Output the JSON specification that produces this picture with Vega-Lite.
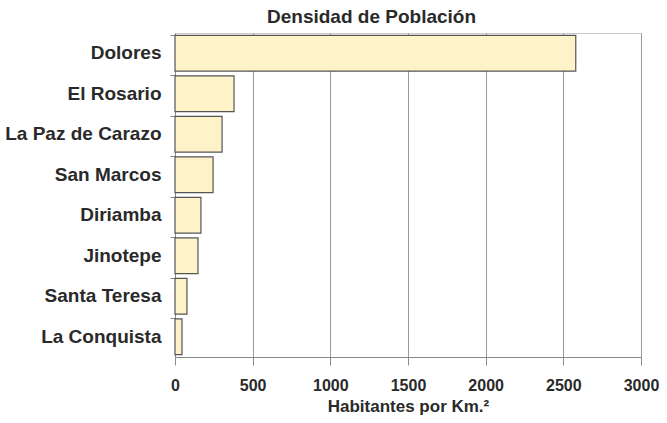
{
  "$schema": "https://vega.github.io/schema/vega-lite/v6.json",
  "width": 466,
  "height": 324,
  "autosize": {"type": "none"},
  "padding": {"left": 175, "top": 33, "right": 26, "bottom": 66},
  "background": "white",
  "title": {
    "text": "Densidad de Población",
    "anchor": "start",
    "frame": "group",
    "dx": 92,
    "offset": 6,
    "font": "Liberation Sans",
    "fontSize": 19,
    "fontWeight": "bold",
    "color": "#2a2a2a"
  },
  "data": {
    "values": [
      {"municipio": "Dolores", "densidad": 2580},
      {"municipio": "El Rosario", "densidad": 380},
      {"municipio": "La Paz de Carazo", "densidad": 303},
      {"municipio": "San Marcos", "densidad": 245},
      {"municipio": "Diriamba", "densidad": 167},
      {"municipio": "Jinotepe", "densidad": 148},
      {"municipio": "Santa Teresa", "densidad": 77},
      {"municipio": "La Conquista", "densidad": 45}
    ]
  },
  "mark": {"type": "bar", "fill": "#fdf2c8", "stroke": "#555555", "strokeWidth": 1.2},
  "encoding": {
    "y": {
      "field": "municipio",
      "type": "nominal",
      "sort": null,
      "scale": {"paddingInner": 0.12, "paddingOuter": 0.06},
      "axis": {
        "title": null,
        "bandPosition": 0,
        "tickSize": 5,
        "tickColor": "#888888",
        "domainColor": "#888888",
        "labelPadding": 9,
        "labelFont": "Liberation Sans",
        "labelFontSize": 19,
        "labelFontWeight": "bold",
        "labelColor": "#2a2a2a",
        "labelLimit": 200,
        "grid": false
      }
    },
    "x": {
      "field": "densidad",
      "type": "quantitative",
      "scale": {"domain": [0, 3000], "nice": false},
      "axis": {
        "title": "Habitantes por Km.²",
        "format": "d",
        "values": [0, 500, 1000, 1500, 2000, 2500, 3000],
        "tickSize": 8,
        "tickColor": "#888888",
        "domainColor": "#888888",
        "gridColor": "#999999",
        "gridWidth": 1,
        "labelPadding": 12,
        "labelFlush": false,
        "labelFont": "Liberation Sans",
        "labelFontSize": 16,
        "labelFontWeight": "bold",
        "labelColor": "#2a2a2a",
        "labelOverlap": false,
        "titleFont": "Liberation Sans",
        "titleFontSize": 17,
        "titleFontWeight": "bold",
        "titleColor": "#2a2a2a",
        "titlePadding": 5
      }
    }
  },
  "config": {
    "view": {"stroke": "#cccccc"}
  }
}
